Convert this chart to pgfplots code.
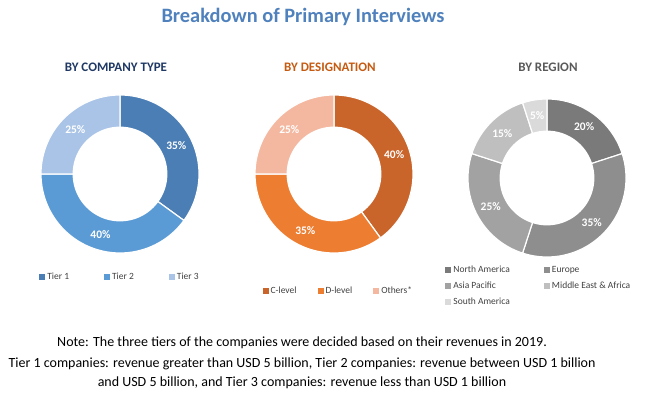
\documentclass[border=0pt]{standalone}
\usepackage{pgfplots}
\pgfplotsset{compat=1.18}
\usepackage{fontspec}
\setmainfont{Carlito}
\definecolor{titleblue}{HTML}{4F81BD}
\definecolor{navy}{HTML}{1F3864}
\definecolor{desorg}{HTML}{C55A11}
\definecolor{reggray}{HTML}{595959}
\definecolor{legtext}{HTML}{404040}
\definecolor{tierA}{HTML}{4A7EB5}
\definecolor{tierB}{HTML}{5B9BD5}
\definecolor{tierC}{HTML}{A9C4E6}
\definecolor{desA}{HTML}{C9652B}
\definecolor{desB}{HTML}{ED7D31}
\definecolor{desC}{HTML}{F4B8A0}
\definecolor{regA}{HTML}{7A7A7A}
\definecolor{regB}{HTML}{8E8E8E}
\definecolor{regC}{HTML}{A2A2A2}
\definecolor{regD}{HTML}{BFBFBF}
\definecolor{regE}{HTML}{DADADA}
% slice: start %, end % (cumulative), colour, legend entry
\newcommand{\slice}[4]{%
  \addplot[fill=#3, draw=white, line width=1.2pt, domain=90-3.6*#2:90-3.6*#1, samples=90]
    ({cos(x)},{sin(x)}) -- (axis cs:0,0) -- cycle;
  \addlegendentry{#4}}
\newcommand{\hole}{%
  \addplot[fill=white, draw=none, domain=0:360, samples=120, forget plot]
    ({0.6*cos(x)},{0.6*sin(x)}) -- cycle;}
\newcommand{\plabel}[2]{%
  \node[font=\bfseries\fontsize{11.5}{12}\selectfont, text=white]
    at (axis cs:{0.8*cos(#1)},{0.8*sin(#1)}) {#2\%};}
\pgfplotsset{
  donut/.style={
    x=79pt, y=79pt, xmin=-1.1, xmax=1.1, ymin=-1.1, ymax=1.1,
    hide axis, clip=false, anchor=center,
    legend image code/.code={\fill[##1, draw=none] (0pt,-3pt) rectangle (6pt,3pt);},
    legend style={draw=none, fill=none, anchor=north,
      font=\fontsize{9.5}{11}\selectfont\color{legtext},
      legend cell align=left},
  }
}
\begin{document}
\begin{tikzpicture}[x=1pt,y=1pt]
\path (0,0) rectangle (650,398);
\coordinate (cL) at (120,224);
\coordinate (cM) at (334,224);
\coordinate (cR) at (547,220);
\node[font=\bfseries\fontsize{20.4}{24}\selectfont, text=titleblue] at (303,381) {Breakdown of Primary Interviews};
\node[font=\bfseries\fontsize{13}{15}\selectfont, text=navy] at (116,331) {BY COMPANY TYPE};
\node[font=\bfseries\fontsize{13}{15}\selectfont, text=desorg] at (330,331) {BY DESIGNATION};
\node[font=\bfseries\fontsize{13}{15}\selectfont, text=reggray] at (548,331) {BY REGION};

% By company type
\begin{axis}[donut, at={(cL)},
  legend columns=3,
  legend style={at={(0.5,-0.047)}, /tikz/every even column/.append style={column sep=33pt}}]
\slice{0}{35}{tierA}{Tier 1}
\slice{35}{75}{tierB}{Tier 2}
\slice{75}{100}{tierC}{Tier 3}
\hole
\plabel{27}{35}
\plabel{-108}{40}
\plabel{-225}{25}
\end{axis}

% By designation
\begin{axis}[donut, at={(cM)},
  legend columns=3,
  legend style={at={(0.525,-0.127)}, /tikz/every even column/.append style={column sep=19pt}}]
\slice{0}{40}{desA}{C-level}
\slice{40}{75}{desB}{D-level}
\slice{75}{100}{desC}{Others*}
\hole
\plabel{18}{40}
\plabel{-117}{35}
\plabel{-225}{25}
\end{axis}

% By region
\begin{axis}[donut, at={(cR)},
  legend columns=2,
  legend style={at={(0.453,0.017)}, row sep=4pt, /tikz/every even column/.append style={column sep=32pt}}]
\slice{0}{20}{regA}{North America}
\slice{20}{55}{regB}{Europe}
\slice{55}{80}{regC}{Asia Pacific}
\slice{80}{95}{regD}{Middle East \& Africa}
\slice{95}{100}{regE}{South America}
\hole
\plabel{54}{20}
\plabel{-45}{35}
\plabel{-153}{25}
\plabel{-225}{15}
\plabel{-261}{5}
\end{axis}

\node[font=\fontsize{14}{16}\selectfont] at (302,55) {Note: The three tiers of the companies were decided based on their revenues in 2019.};
\node[font=\fontsize{14}{19}\selectfont, align=center] at (302,25) {Tier 1 companies: revenue greater than USD 5 billion, Tier 2 companies: revenue between USD 1 billion\\and USD 5 billion, and Tier 3 companies: revenue less than USD 1 billion};
\end{tikzpicture}
\end{document}
